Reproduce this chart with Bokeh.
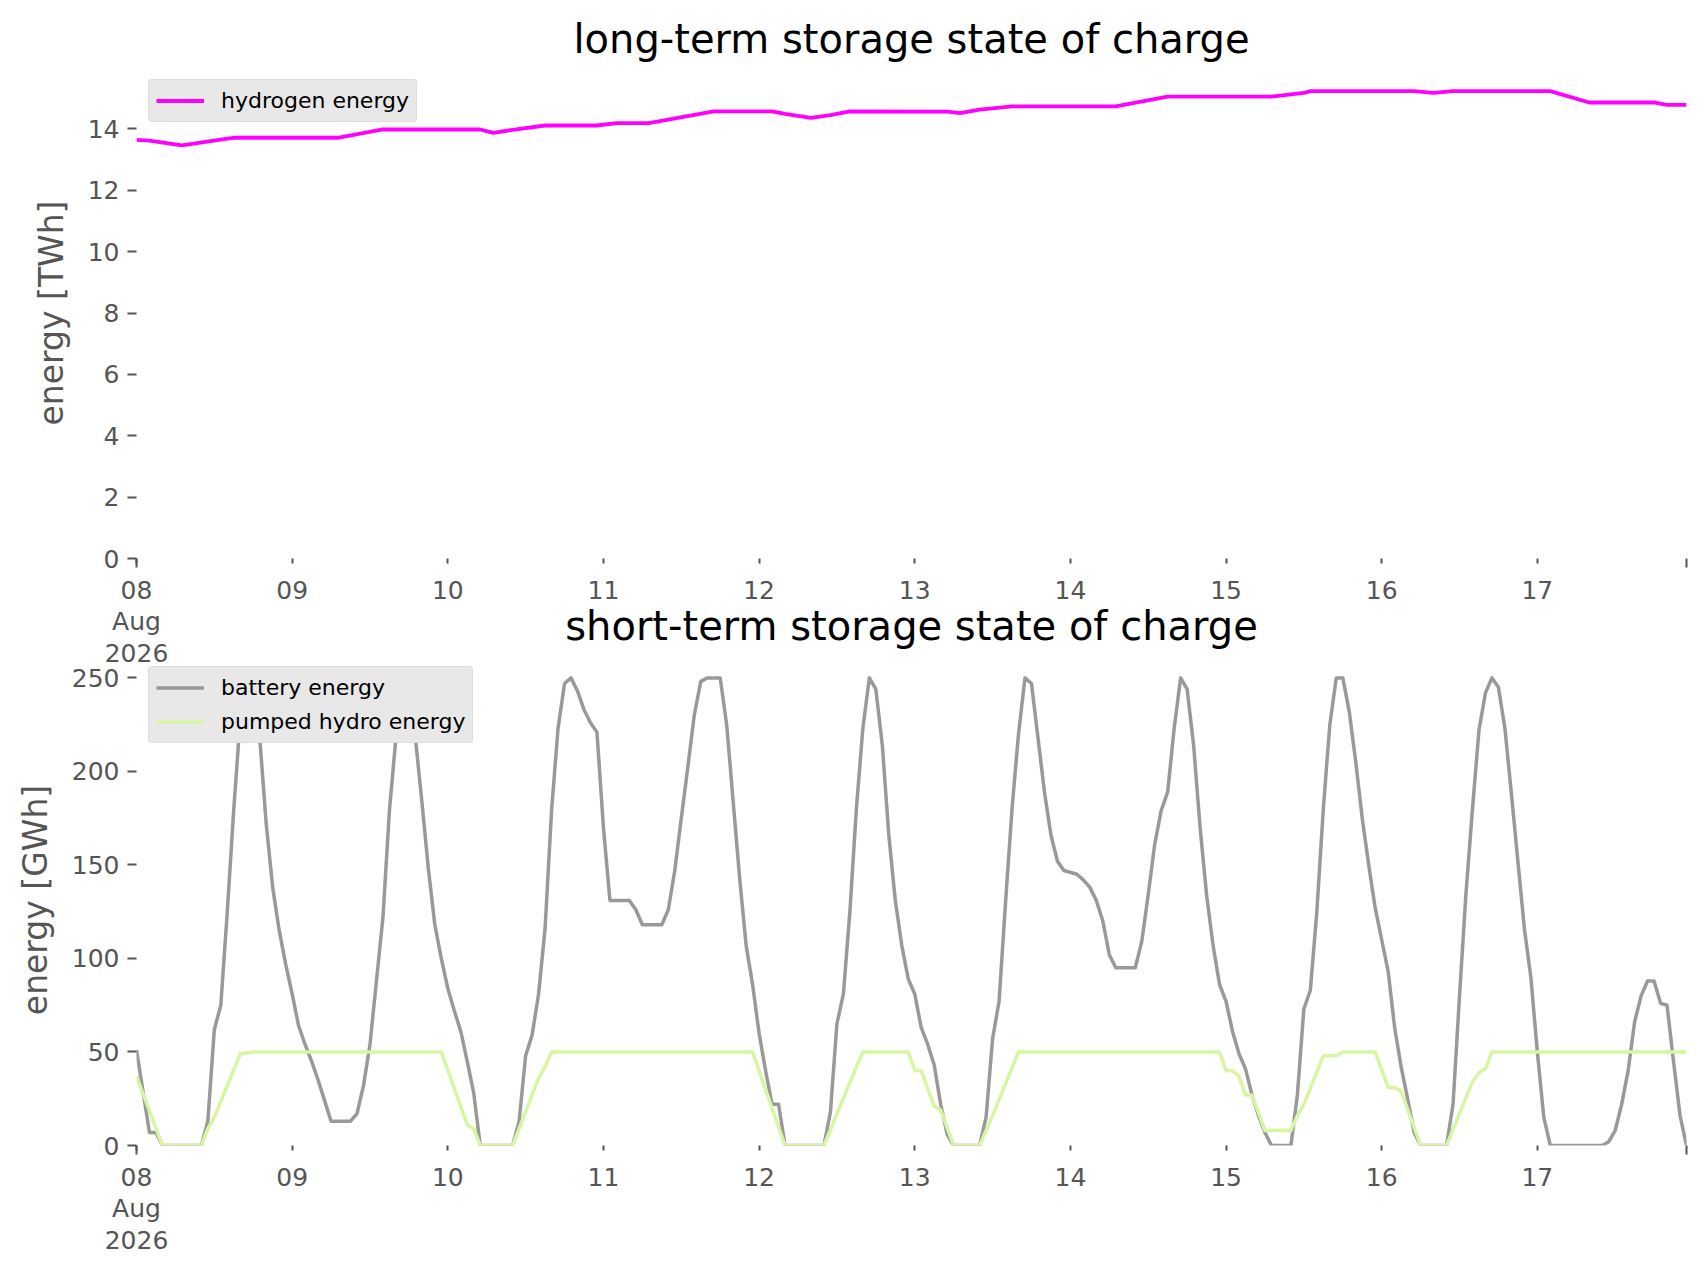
from bokeh.plotting import figure
from bokeh.models import Range1d, FixedTicker, Legend, LegendItem, ColumnDataSource
from bokeh.layouts import column
from bokeh.embed import file_html
from bokeh.resources import INLINE

# ---------------- data (hours since 08 Aug 2026 00:00) ----------------
day_labels = ["08\nAug\n2026", "09", "10", "11", "12", "13", "14", "15", "16", "17"]
last_hour = 239

hydrogen_h = [0, 2, 7, 14, 15, 31, 38, 53, 55, 58, 63, 71, 74, 79, 89, 98, 100, 104, 107, 110,
              125, 127, 130, 135, 151, 159, 175, 180, 181, 197, 200, 203, 218, 224, 234, 236, 239]
hydrogen_twh = [13.64, 13.62, 13.46, 13.68, 13.71, 13.71, 13.98, 13.98, 13.87, 13.97, 14.11, 14.11,
                14.19, 14.19, 14.57, 14.57, 14.49, 14.36, 14.45, 14.57, 14.56, 14.51, 14.63, 14.73,
                14.73, 15.05, 15.05, 15.17, 15.23, 15.23, 15.17, 15.23, 15.23, 14.86, 14.86, 14.78, 14.78]

battery_h = [0, 2, 3, 4, 10, 11, 12, 13, 14, 15, 16, 17, 18, 19, 20, 21, 22, 23, 24, 25, 26, 27, 28,
             29, 30, 33, 34, 35, 36, 37, 38, 39, 40, 41, 42, 43, 44, 45, 46, 47, 48, 49, 50, 51, 52,
             53, 58, 59, 60, 61, 62, 63, 64, 65, 66, 67, 68, 69, 70, 71, 72, 73, 76, 77, 78, 81, 82,
             83, 84, 85, 86, 87, 88, 90, 91, 92, 93, 94, 95, 96, 97, 98, 99, 100, 106, 107, 108, 109,
             110, 111, 112, 113, 114, 115, 116, 117, 118, 119, 120, 121, 122, 123, 124, 125, 126, 130,
             131, 132, 133, 134, 135, 136, 137, 138, 139, 140, 141, 142, 143, 145, 146, 147, 148, 149,
             150, 151, 154, 155, 156, 157, 158, 159, 160, 161, 162, 163, 164, 165, 166, 167, 168, 169,
             170, 171, 172, 173, 174, 175, 178, 179, 180, 181, 182, 183, 184, 185, 186, 187, 188, 189,
             190, 191, 192, 193, 194, 195, 196, 197, 198, 202, 203, 204, 205, 206, 207, 208, 209, 210,
             211, 212, 213, 214, 215, 216, 217, 218, 226, 227, 228, 229, 230, 231, 232, 233, 234, 235,
             236, 237, 238, 239]
battery_gwh = [51, 7, 7, 0, 0, 13, 62, 75, 125, 180, 228, 250, 250, 218, 172, 138, 115, 97, 81, 64, 54,
               45, 35, 24, 13, 13, 17, 32, 54, 88, 122, 179, 218, 248, 250, 218, 184, 148, 118, 100,
               84, 72, 61, 45, 28, 0, 0, 13, 48, 59, 81, 116, 179, 223, 247, 250, 243, 233, 226, 221,
               170, 131, 131, 126, 118, 118, 126, 147, 175, 202, 230, 248, 250, 250, 225, 184, 143,
               107, 86, 60, 40, 22, 22, 0, 0, 18, 65, 81, 125, 180, 223, 250, 244, 214, 166, 131, 107,
               89, 81, 63, 54, 43, 22, 6, 0, 0, 15, 57, 77, 130, 180, 220, 250, 247, 218, 189, 166,
               152, 147, 145, 142, 138, 131, 120, 102, 95, 95, 109, 134, 161, 179, 189, 223, 250, 244,
               214, 170, 134, 107, 86, 77, 61, 49, 41, 27, 16, 7, 0, 0, 27, 73, 83, 125, 180, 225,
               250, 250, 232, 205, 175, 150, 127, 110, 93, 63, 42, 25, 7, 0, 0, 22, 80, 135, 180, 222,
               242, 250, 245, 223, 188, 152, 116, 90, 50, 15, 0, 0, 2, 8, 22, 40, 66, 80, 88, 88, 76,
               75, 45, 16, 0]

hydro_h = [0, 4, 10, 11, 12, 16, 18, 47, 51, 52, 53, 58, 59, 62, 63, 64, 95, 100, 106, 111, 112, 119,
           120, 121, 123, 124, 126, 130, 132, 136, 167, 168, 169, 170, 171, 172, 174, 178, 179, 180,
           183, 185, 186, 191, 193, 194, 195, 198, 202, 206, 207, 208, 209, 239]
hydro_gwh = [37, 0, 0, 9, 15, 49, 50, 50, 11, 9, 0, 0, 9, 36, 42, 50, 50, 0, 0, 42, 50, 50, 40, 40,
             21, 19, 0, 0, 16, 50, 50, 40, 40, 37, 27, 27, 8, 8, 16, 22, 48, 48, 50, 50, 31, 31, 29,
             0, 0, 34, 39, 41, 50, 50]

top_yticks = [0, 2, 4, 6, 8, 10, 12, 14]
bottom_yticks = [0, 50, 100, 150, 200, 250]

# ---------------- styling ----------------
FONT = "DejaVu Sans"
TICK_COLOR = "#555555"
day_ticks = [i * 24 for i in range(len(day_labels))]
overrides = {t: lab for t, lab in zip(day_ticks, day_labels)}


def style(p, yticks, ylabel):
    p.title.text_font = FONT
    p.title.text_font_size = "40px"
    p.title.text_font_style = "normal"
    p.title.text_color = "black"
    p.title.align = "center"
    p.title.standoff = 12
    p.outline_line_color = None
    p.xgrid.visible = False
    p.ygrid.visible = False

    xa = p.xaxis[0]
    xa.ticker = FixedTicker(ticks=day_ticks, minor_ticks=[0, last_hour])
    xa.major_label_overrides = overrides
    xa.axis_line_color = None
    xa.major_tick_line_color = TICK_COLOR
    xa.major_tick_line_width = 2
    xa.major_tick_in = 0
    xa.major_tick_out = 5
    xa.minor_tick_line_color = TICK_COLOR
    xa.minor_tick_line_width = 2
    xa.minor_tick_in = 0
    xa.minor_tick_out = 9
    xa.major_label_text_font = FONT
    xa.major_label_text_font_size = "25px"
    xa.major_label_text_color = TICK_COLOR
    xa.major_label_text_line_height = 1.1
    xa.major_label_standoff = 8

    ya = p.yaxis[0]
    ya.ticker = FixedTicker(ticks=yticks)
    ya.axis_line_color = None
    ya.major_tick_line_color = TICK_COLOR
    ya.major_tick_line_width = 2
    ya.major_tick_in = 0
    ya.major_tick_out = 9
    ya.minor_tick_line_color = None
    ya.major_label_text_font = FONT
    ya.major_label_text_font_size = "25px"
    ya.major_label_text_color = TICK_COLOR
    ya.major_label_standoff = 8
    ya.axis_label = ylabel
    ya.axis_label_text_font = FONT
    ya.axis_label_text_font_size = "33px"
    ya.axis_label_text_font_style = "normal"
    ya.axis_label_text_color = TICK_COLOR
    ya.axis_label_standoff = 14


def style_legend(lg):
    lg.location = "top_left"
    lg.margin = 12
    lg.padding = 7
    lg.spacing = 7
    lg.glyph_width = 48
    lg.glyph_height = 27
    lg.label_height = 27
    lg.label_standoff = 17
    lg.label_text_font = FONT
    lg.label_text_font_size = "22px"
    lg.label_text_color = "black"
    lg.background_fill_color = "#e8e8e8"
    lg.background_fill_alpha = 1.0
    lg.border_line_color = "#d2d2d2"
    lg.border_line_width = 1
    if "border_radius" in lg.properties():
        lg.border_radius = 4


# ---------------- top figure ----------------
p1 = figure(width=1698, height=683, x_range=Range1d(0, last_hour), y_range=Range1d(0, 16),
            output_backend="svg", toolbar_location=None,
            title="long-term storage state of charge",
            min_border_left=136, min_border_right=12, min_border_top=67, min_border_bottom=125)
style(p1, top_yticks, "energy [TWh]")
src1 = ColumnDataSource(dict(h=hydrogen_h, v=hydrogen_twh))
r_h2 = p1.line("h", "v", source=src1, line_color="#ff00ff", line_width=3.8, line_join="round")
lg1 = Legend(items=[LegendItem(label="hydrogen energy", renderers=[r_h2])])
style_legend(lg1)
p1.add_layout(lg1)

# ---------------- bottom figure ----------------
p2 = figure(width=1698, height=674, x_range=Range1d(0, last_hour), y_range=Range1d(0, 262.5),
            output_backend="svg", toolbar_location=None,
            title="short-term storage state of charge",
            min_border_left=136, min_border_right=12, min_border_top=60, min_border_bottom=123,
            margin=(-89, 0, 0, 0))
style(p2, bottom_yticks, "energy [GWh]")
p2.background_fill_color = None
p2.border_fill_color = None
src_b = ColumnDataSource(dict(h=battery_h, v=battery_gwh))
src_p = ColumnDataSource(dict(h=hydro_h, v=hydro_gwh))
r_bat = p2.line("h", "v", source=src_b, line_color="#999999", line_width=3.5, line_join="round")
r_phs = p2.line("h", "v", source=src_p, line_color="#d8f5a2", line_width=3.5, line_join="round")
lg2 = Legend(items=[LegendItem(label="battery energy", renderers=[r_bat]),
                    LegendItem(label="pumped hydro energy", renderers=[r_phs])])
style_legend(lg2)
p2.add_layout(lg2)

layout = column(p1, p2, spacing=0)
open("out.html", "w").write(file_html(layout, INLINE))
